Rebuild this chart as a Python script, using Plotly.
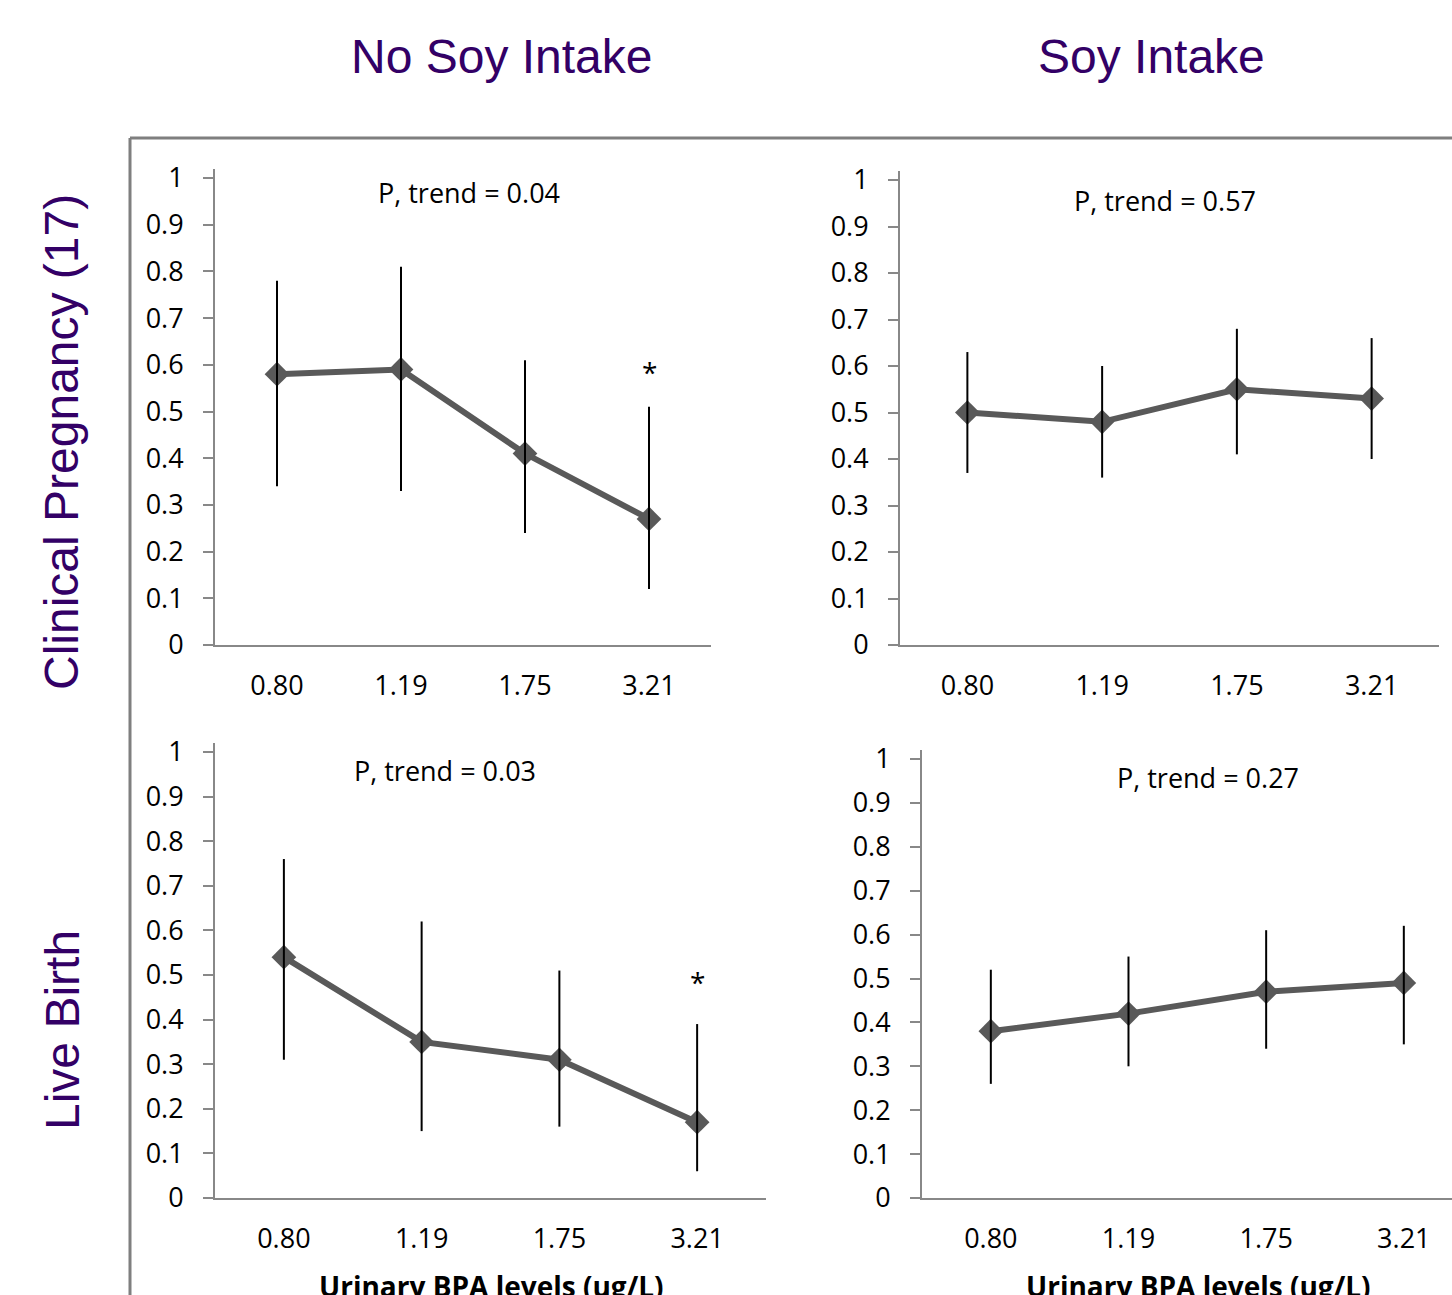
import plotly.graph_objects as go

W, H = 1452, 1295

categories = ["0.80", "1.19", "1.75", "3.21"]

# Clinical pregnancy, no soy
cp_nosoy = [0.58, 0.59, 0.41, 0.27]
cp_nosoy_hi = [0.78, 0.81, 0.61, 0.51]
cp_nosoy_lo = [0.34, 0.33, 0.24, 0.12]
# Clinical pregnancy, soy
cp_soy = [0.50, 0.48, 0.55, 0.53]
cp_soy_hi = [0.63, 0.60, 0.68, 0.66]
cp_soy_lo = [0.37, 0.36, 0.41, 0.40]
# Live birth, no soy
lb_nosoy = [0.54, 0.35, 0.31, 0.17]
lb_nosoy_hi = [0.76, 0.62, 0.51, 0.39]
lb_nosoy_lo = [0.31, 0.15, 0.16, 0.06]
# Live birth, soy
lb_soy = [0.38, 0.42, 0.47, 0.49]
lb_soy_hi = [0.52, 0.55, 0.61, 0.62]
lb_soy_lo = [0.26, 0.30, 0.34, 0.35]

p_trend = ["P, trend = 0.04", "P, trend = 0.57", "P, trend = 0.03", "P, trend = 0.27"]
col_titles = ["No Soy Intake", "Soy Intake"]
row_titles = ["Clinical Pregnancy (17)", "Live Birth"]
x_title = "Urinary BPA levels (ug/L)"

def px(x):
    return x / W

def py(y):
    return 1 - y / H

# panel geometry in pixels: (x_left, x_right, y_zero, y_one, xrange_max)
panels = [
    (215, 711, 645, 178, 3.5),
    (900, 1439, 645, 180, 3.5),
    (215, 766, 1198, 752, 3.5),
    (922, 1452, 1198, 759, 3.35),
]
series = [
    (cp_nosoy, cp_nosoy_hi, cp_nosoy_lo),
    (cp_soy, cp_soy_hi, cp_soy_lo),
    (lb_nosoy, lb_nosoy_hi, lb_nosoy_lo),
    (lb_soy, lb_soy_hi, lb_soy_lo),
]
ptrend_pos = [(469, 192), (1165, 200), (445, 770), (1208, 778)]

TICKFONT = dict(family="Open Sans", size=27, color="#000000")
AXCOLOR = "#888888"
PURPLE = "#330066"

fig = go.Figure()
layout = dict(
    template="none",
    width=W, height=H, margin=dict(l=0, r=0, t=0, b=0, pad=0, autoexpand=False),
    paper_bgcolor="white", plot_bgcolor="white", showlegend=False,
)
annotations = []

for i, ((xl, xr, y0, y1, xmax), (v, hi, lo)) in enumerate(zip(panels, series)):
    n = i + 1
    xa = "x" if n == 1 else f"x{n}"
    ya = "y" if n == 1 else f"y{n}"
    ppu = (y0 - y1)
    ytop = y1 - 0.02 * ppu
    fig.add_trace(go.Scatter(
        x=categories, y=v, mode="lines+markers", xaxis=xa, yaxis=ya,
        line=dict(color="#595959", width=6),
        marker=dict(symbol="diamond", size=19, color="#595959"),
        hoverinfo="skip",
    ))
    fig.add_trace(go.Scatter(
        x=categories, y=v, mode="markers", xaxis=xa, yaxis=ya,
        marker=dict(size=1, color="rgba(0,0,0,0)"),
        error_y=dict(type="data", symmetric=False,
                     array=[h - m for h, m in zip(hi, v)],
                     arrayminus=[m - l for m, l in zip(v, lo)],
                     color="#000000", thickness=2, width=0),
        hoverinfo="skip",
    ))
    xkey = "xaxis" if n == 1 else f"xaxis{n}"
    ykey = "yaxis" if n == 1 else f"yaxis{n}"
    layout[xkey] = dict(
        domain=[px(xl), px(xr)], anchor=ya, type="category", automargin=False,
        range=[-0.5, xmax], showgrid=False, zeroline=False,
        showline=True, linecolor=AXCOLOR, linewidth=2,
        ticks="", tickfont=TICKFONT, ticklabelstandoff=16,
        categoryorder="array", categoryarray=categories,
    )
    layout[ykey] = dict(
        domain=[py(y0), py(ytop)], anchor=xa, automargin=False,
        range=[0, 1.02], showgrid=False, zeroline=False,
        showline=True, linecolor=AXCOLOR, linewidth=2,
        ticks="outside", ticklen=10, tickcolor=AXCOLOR, tickwidth=2,
        tickvals=[0, 0.1, 0.2, 0.3, 0.4, 0.5, 0.6, 0.7, 0.8, 0.9, 1],
        ticktext=["0", "0.1", "0.2", "0.3", "0.4", "0.5", "0.6", "0.7", "0.8", "0.9", "1"],
        tickfont=TICKFONT, ticklabelstandoff=14,
    )
    tx, ty = ptrend_pos[i]
    annotations.append(dict(
        text=p_trend[i], x=px(tx), y=py(ty), xref="paper", yref="paper",
        xanchor="center", yanchor="middle", showarrow=False,
        font=dict(family="Open Sans", size=27, color="#000000"),
    ))

# significance asterisks (category index 3 = "3.21")
annotations.append(dict(text="*", x=3, y=0.585, xref="x", yref="y",
                        showarrow=False, font=dict(family="Open Sans", size=28, color="#000")))
annotations.append(dict(text="*", x=3, y=0.485, xref="x3", yref="y3",
                        showarrow=False, font=dict(family="Open Sans", size=28, color="#000")))

# column titles
for t, cx in zip(col_titles, [502, 1151]):
    annotations.append(dict(text=t, x=px(cx), y=py(57), xref="paper", yref="paper",
                            xanchor="center", yanchor="middle", showarrow=False,
                            font=dict(family="Liberation Sans", size=48, color=PURPLE)))
# row titles
for t, cy in zip(row_titles, [442, 1030]):
    annotations.append(dict(text=t, x=px(62), y=py(cy), xref="paper", yref="paper",
                            xanchor="center", yanchor="middle", showarrow=False, textangle=-90,
                            font=dict(family="Liberation Sans", size=48, color=PURPLE)))
# x axis titles
for cx in [491, 1198]:
    annotations.append(dict(text="<b>" + x_title + "</b>", x=px(cx), y=py(1265), xref="paper", yref="paper",
                            xanchor="center", yanchor="top", showarrow=False,
                            font=dict(family="Open Sans", size=28, color="#000000")))

layout["annotations"] = annotations
layout["shapes"] = [
    dict(type="line", xref="paper", yref="paper", x0=px(130), x1=1.0, y0=py(138), y1=py(138),
         line=dict(color="#7f7f7f", width=3)),
    dict(type="line", xref="paper", yref="paper", x0=px(130), x1=px(130), y0=py(138), y1=0,
         line=dict(color="#7f7f7f", width=3)),
]
fig.update_layout(**layout)
fig.write_html("out.html", config={"displayModeBar": False},
               post_script="document.body.style.margin='0';document.body.style.overflow='hidden';")
